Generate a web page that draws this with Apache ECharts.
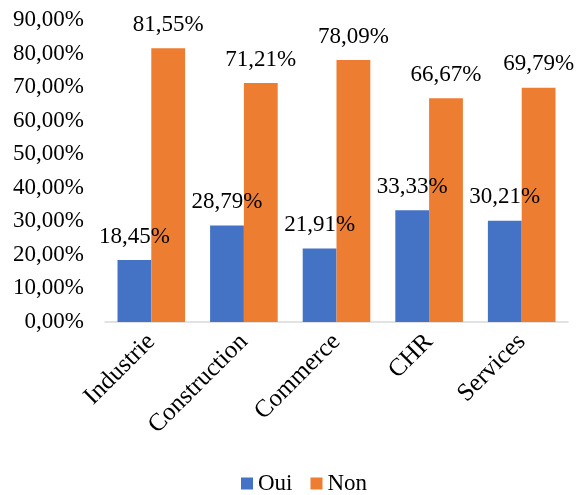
<!DOCTYPE html>
<html>
<head>
<meta charset="utf-8">
<script src="https://cdn.jsdelivr.net/npm/echarts@6/dist/echarts.min.js"></script>
<style>
html,body{margin:0;padding:0;background:#fff;}
#chart{width:580px;height:495px;}
</style>
</head>
<body>
<div id="chart"></div>
<script>
const categories = ['Industrie', 'Construction', 'Commerce', 'CHR', 'Services'];
const seriesNames = ['Oui', 'Non'];
const oui = [18.45, 28.79, 21.91, 33.33, 30.21];
const non = [81.55, 71.21, 78.09, 66.67, 69.79];
const yTicks = { min: 0, max: 90, interval: 10 };

const FONT = '"Liberation Serif", "Times New Roman", serif';
const fmt = v => Number(v).toFixed(2).replace('.', ',') + '%';

const chart = echarts.init(document.getElementById('chart'));
const labelCfg = {
  show: true, position: 'top', distance: 12,
  color: '#000', fontFamily: FONT, fontSize: 23,
  formatter: p => fmt(p.value)
};
chart.setOption({
  animation: false,
  textStyle: { fontFamily: FONT },
  grid: { left: 105, right: 12, top: 20, bottom: 173, containLabel: false },
  legend: {
    bottom: -5, left: 236, itemWidth: 12, itemHeight: 12, itemGap: 18,
    icon: 'rect',
    textStyle: { fontFamily: FONT, fontSize: 23, color: '#000' },
    data: seriesNames
  },
  xAxis: {
    type: 'category', data: categories,
    axisLine: { lineStyle: { color: '#d9d9d9', width: 1.5 } },
    axisTick: { show: false },
    axisLabel: { rotate: 45, margin: 16, fontFamily: FONT, fontSize: 25, color: '#000', interval: 0 }
  },
  yAxis: {
    type: 'value', min: yTicks.min, max: yTicks.max, interval: yTicks.interval,
    splitLine: { show: false },
    axisLine: { show: false }, axisTick: { show: false },
    axisLabel: { margin: 21, fontFamily: FONT, fontSize: 23, color: '#000', formatter: fmt }
  },
  series: [
    { name: seriesNames[0], type: 'bar', data: oui, barGap: '0%', barCategoryGap: '27%',
      itemStyle: { color: '#4472C4' }, label: labelCfg },
    { name: seriesNames[1], type: 'bar', data: non, barGap: '0%', barCategoryGap: '27%',
      itemStyle: { color: '#ED7D31' }, label: labelCfg }
  ]
});
</script>
</body>
</html>
